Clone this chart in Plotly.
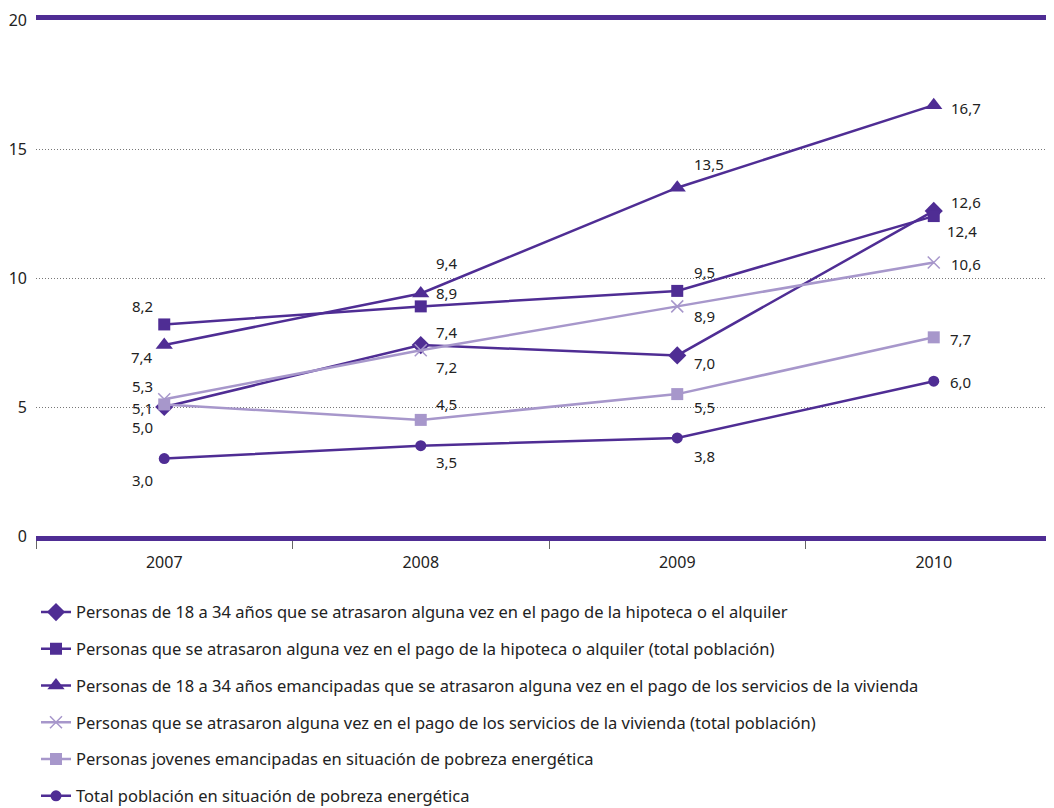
import plotly.graph_objects as go

years = ["2007", "2008", "2009", "2010"]

names = [
    "Personas de 18 a 34 años que se atrasaron alguna vez en el pago de la hipoteca o el alquiler",
    "Personas que se atrasaron alguna vez en el pago de la hipoteca o alquiler (total población)",
    "Personas de 18 a 34 años emancipadas que se atrasaron alguna vez en el pago de los servicios de la vivienda",
    "Personas que se atrasaron alguna vez en el pago de los servicios de la vivienda (total población)",
    "Personas jovenes emancipadas en situación de pobreza energética",
    "Total población en situación de pobreza energética",
]

jov_hipoteca = [5.0, 7.4, 7.0, 12.6]
tot_hipoteca = [8.2, 8.9, 9.5, 12.4]
jov_servicios = [7.4, 9.4, 13.5, 16.7]
tot_servicios = [5.3, 7.2, 8.9, 10.6]
jov_pobreza = [5.1, 4.5, 5.5, 7.7]
tot_pobreza = [3.0, 3.5, 3.8, 6.0]

series = [jov_hipoteca, tot_hipoteca, jov_servicios, tot_servicios, jov_pobreza, tot_pobreza]

DARK = "#4F2D94"
LIGHT = "#A797CB"
styles = [
    dict(color=DARK, symbol="diamond", size=14),
    dict(color=DARK, symbol="square", size=12),
    dict(color=DARK, symbol="triangle-up", size=15),
    dict(color=LIGHT, symbol="x-thin", size=12),
    dict(color=LIGHT, symbol="square", size=12),
    dict(color=DARK, symbol="circle", size=11),
]

# label pixel offsets (dx, dy) per series per year (style only)
offsets = [
    [(-22, 20), (26, -13), (27, 8), (32, -9)],
    [(-22, -18), (26, -13), (27, -19), (28, 15)],
    [(-22, 12), (26, -30), (32, -24), (32, 3)],
    [(-22, -13), (26, 17), (27, 10), (32, 1)],
    [(-22, 4), (26, -16), (27, 13), (27, 2)],
    [(-22, 21), (26, 16), (27, 18), (27, 1)],
]

FONT = "Noto Sans"
TXT = "#222222"

fig = go.Figure()
annotations = []
for i, (nm, vals, st) in enumerate(zip(names, series, styles)):
    mk = dict(color=st["color"], symbol=st["symbol"], size=st["size"])
    if st["symbol"] == "x-thin":
        mk["line"] = dict(color=st["color"], width=1.5)
    fig.add_trace(go.Scatter(
        x=years, y=vals, name=nm, mode="lines+markers",
        line=dict(color=st["color"], width=2.5),
        marker=mk, legendgroup=f"g{i}",
    ))
    for j, v in enumerate(vals):
        dx, dy = offsets[i][j]
        annotations.append(dict(
            x=j, y=v, xref="x", yref="y", text=f"{v:.1f}".replace(".", ","),
            showarrow=False, xshift=dx, yshift=-dy,
            font=dict(family=FONT, size=15, color=TXT),
        ))

fig.update_layout(
    width=1054, height=808,
    margin=dict(l=28, r=0, t=12, b=280, autoexpand=False),
    plot_bgcolor="white", paper_bgcolor="white",
    font=dict(family=FONT, size=16, color=TXT),
    annotations=annotations,
    showlegend=True,
    legend=dict(
        x=0, y=-0.114, xanchor="left", yanchor="top",
        orientation="v", tracegroupgap=12.3,
        font=dict(family=FONT, size=16.5, color=TXT),
        bgcolor="rgba(0,0,0,0)",
    ),
)
fig.update_xaxes(
    type="category", range=[-0.5, 3.5], automargin=False,
    showline=True, linecolor=DARK, linewidth=5, mirror=True,
    showgrid=False, zeroline=False,
    tickson="boundaries", ticks="outside", ticklen=8, tickcolor="#666666", tickwidth=1,
    ticklabelstandoff=8,
    tickfont=dict(family=FONT, size=16, color=TXT),
)
fig.update_yaxes(
    range=[0, 20], tickvals=[0, 5, 10, 15, 20], automargin=False,
    showline=False, zeroline=False,
    showgrid=True, gridcolor="#777777", gridwidth=1, griddash="1px,2px",
    ticks="", ticklabelstandoff=8,
    tickfont=dict(family=FONT, size=16, color=TXT),
)

fig.write_html("out.html")
